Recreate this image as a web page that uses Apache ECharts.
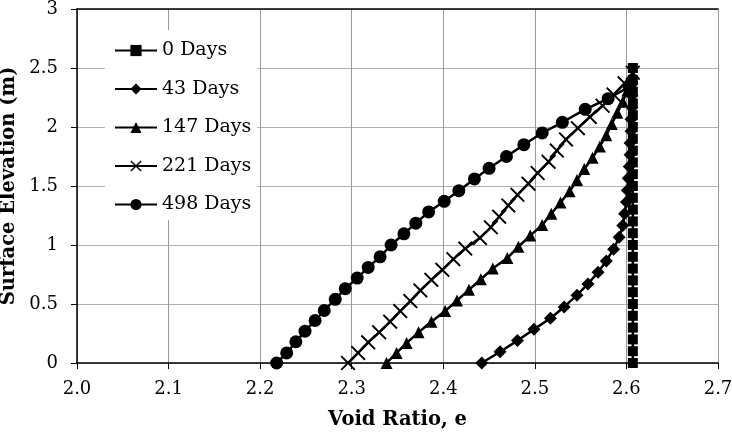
<!DOCTYPE html>
<html><head><meta charset="utf-8">
<script src="https://cdn.jsdelivr.net/npm/echarts@6/dist/echarts.min.js"></script>
<style>html,body{margin:0;padding:0;background:#fff}#c{width:732px;height:433px}</style>
</head><body><div id="c"></div>
<script>
const seriesNames = ['0 Days', '43 Days', '147 Days', '221 Days', '498 Days'];
const xTicks = [2.0, 2.1, 2.2, 2.3, 2.4, 2.5, 2.6, 2.7];
const yTicks = [0, 0.5, 1, 1.5, 2, 2.5, 3];

const elev0 = [0,0.1,0.2,0.3,0.4,0.5,0.6,0.7,0.8,0.9,1.0,1.1,1.2,1.3,1.4,1.5,1.6,1.7,1.8,1.9,2.0,2.1,2.2,2.3,2.4,2.5];
const void0 = [2.607,2.607,2.607,2.607,2.607,2.607,2.607,2.607,2.607,2.607,2.607,2.607,2.607,2.607,2.607,2.607,2.607,2.607,2.607,2.607,2.607,2.607,2.607,2.607,2.607,2.607];

const elev43 = [0,0.095,0.19,0.285,0.38,0.475,0.575,0.67,0.77,0.865,0.965,1.065,1.165,1.265,1.365,1.465,1.565,1.665,1.765,1.865,1.965,2.065,2.165,2.265,2.365];
const void43 = [2.442,2.462,2.481,2.499,2.517,2.532,2.546,2.558,2.569,2.578,2.586,2.592,2.596,2.598,2.600,2.601,2.602,2.603,2.604,2.604,2.605,2.605,2.606,2.606,2.606];

const elev147 = [0,0.085,0.17,0.26,0.35,0.44,0.53,0.62,0.71,0.80,0.89,0.985,1.08,1.17,1.265,1.36,1.455,1.55,1.645,1.74,1.835,1.93,2.025,2.12,2.215,2.31,2.405];
const void147 = [2.338,2.349,2.360,2.373,2.387,2.402,2.415,2.428,2.441,2.454,2.470,2.482,2.495,2.508,2.518,2.528,2.538,2.546,2.554,2.563,2.571,2.578,2.584,2.590,2.596,2.601,2.605];

const elev221 = [0,0.085,0.175,0.26,0.35,0.44,0.525,0.615,0.705,0.79,0.88,0.97,1.06,1.15,1.24,1.335,1.425,1.52,1.61,1.705,1.80,1.895,1.99,2.085,2.18,2.275,2.37,2.46];
const void221 = [2.296,2.307,2.318,2.330,2.342,2.353,2.364,2.375,2.387,2.399,2.411,2.424,2.440,2.452,2.461,2.471,2.481,2.493,2.503,2.515,2.524,2.534,2.547,2.560,2.574,2.586,2.598,2.607];

const elev498 = [0,0.085,0.18,0.27,0.36,0.445,0.54,0.63,0.72,0.81,0.90,1.0,1.095,1.185,1.28,1.37,1.46,1.56,1.65,1.75,1.85,1.95,2.04,2.15,2.24,2.34];
const void498 = [2.218,2.229,2.239,2.249,2.260,2.270,2.282,2.293,2.306,2.318,2.331,2.343,2.357,2.370,2.384,2.401,2.417,2.434,2.450,2.469,2.488,2.508,2.530,2.555,2.580,2.603];

const FONT = 'DejaVu Serif';
const xPath = 'path://M0,0.9L0.9,0L5,4.1L9.1,0L10,0.9L5.9,5L10,9.1L9.1,10L5,5.9L0.9,10L0,9.1L4.1,5Z';

function mk(name, ev, vr, symbol, size) {
  return {
    name: name, type: 'line', data: vr.map((v, i) => [v, ev[i]]),
    symbol: symbol, symbolSize: size, showAllSymbol: true,
    lineStyle: { color: '#000', width: 2.5 },
    itemStyle: { color: '#000', borderWidth: 0 },
    emphasis: { disabled: true }, animation: false
  };
}

const chart = echarts.init(document.getElementById('c'), null, { renderer: 'canvas' });
chart.setOption({
  animation: false,
  backgroundColor: '#fff',
  grid: { left: 77, right: 14, top: 9, bottom: 70, containLabel: false, outerBoundsMode: 'none' },
  legend: {
    orient: 'vertical', left: 105, top: 30,
    padding: [11, 6, 6, 9], backgroundColor: '#fff',
    itemWidth: 42, itemHeight: 14, itemGap: 19.5,
    textStyle: { fontFamily: FONT, fontSize: 19, color: '#000' },
    data: seriesNames
  },
  xAxis: [{
    type: 'value', min: 2.0, max: 2.7, interval: 0.1,
    name: 'Void Ratio, e', nameLocation: 'middle', nameGap: 47,
    nameTextStyle: { fontFamily: FONT, fontSize: 19.5, fontWeight: 'bold', color: '#000' },
    axisLine: { show: true, onZero: false, lineStyle: { color: '#000', width: 1.5 } },
    axisTick: { show: true, inside: false, length: 6, lineStyle: { color: '#000' } },
    axisLabel: { fontFamily: FONT, fontSize: 18, color: '#000', margin: 17, formatter: v => v.toFixed(1) },
    splitLine: { show: true, lineStyle: { color: '#9a9a9a', width: 1 } }
  }, {
    type: 'value', position: 'top', min: 2.0, max: 2.7, interval: 0.1,
    axisLine: { show: true, onZero: false, lineStyle: { color: '#000', width: 1.5 } },
    axisTick: { show: false }, axisLabel: { show: false }, splitLine: { show: false }
  }],
  yAxis: {
    type: 'value', min: 0, max: 3, interval: 0.5,
    name: 'Surface Elevation (m)', nameLocation: 'middle', nameGap: 51,
    nameTextStyle: { fontFamily: FONT, fontSize: 19.5, fontWeight: 'bold', color: '#000' },
    axisLine: { show: true, onZero: false, lineStyle: { color: '#000', width: 1.5 } },
    axisTick: { show: true, inside: false, length: 6, lineStyle: { color: '#000' } },
    axisLabel: { fontFamily: FONT, fontSize: 18, color: '#000', margin: 19 },
    splitLine: { show: true, lineStyle: { color: '#b0b0b0', width: 1.2 } }
  },
  series: [
    mk(seriesNames[0], elev0, void0, 'rect', 10),
    mk(seriesNames[1], elev43, void43, 'diamond', 13),
    mk(seriesNames[2], elev147, void147, 'triangle', 12),
    mk(seriesNames[3], elev221, void221, xPath, 15),
    mk(seriesNames[4], elev498, void498, 'circle', 13)
  ]
});
</script></body></html>
